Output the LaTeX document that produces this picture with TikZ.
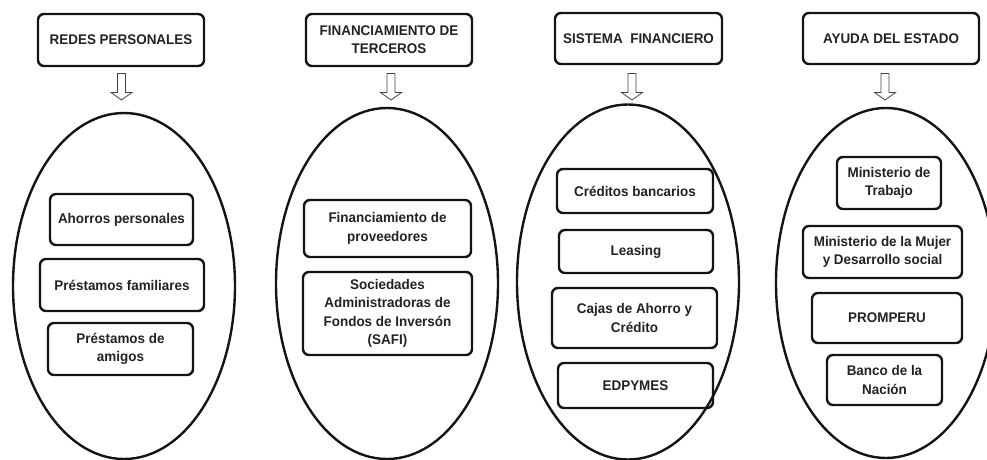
\documentclass[tikz,border=0pt]{standalone}
\usepackage{fontspec}
\setmainfont[FakeStretch=0.96]{Liberation Sans}
\usetikzlibrary{shapes.geometric,calc}
\definecolor{txt}{HTML}{222222}
\definecolor{lin}{HTML}{141414}
\tikzset{
  rbox/.style={draw=lin, line width=2.4pt, rounded corners=6pt, align=center,
    inner sep=0pt, text=txt, font=\fontsize{14}{18.3}\selectfont\bfseries},
  oval/.style={draw=lin, line width=2.4pt, ellipse, inner sep=0pt},
  openarrow/.pic={\draw[line width=0.8pt, draw=lin!80, fill=white]
    (-4,0) -- (4,0) -- (4,19) -- (10.5,19) -- (0,26.5) -- (-10.5,19) -- (-4,19) -- cycle;}
}
\begin{document}
\begin{tikzpicture}[x=1pt,y=-1pt]
\useasboundingbox (0,0) rectangle (987,460);
% ellipses
\node[oval, minimum width=222pt, minimum height=346pt] (e1) at (124,286) {};
\node[oval, minimum width=222pt, minimum height=351pt] (e2) at (387,283.5) {};
\node[oval, minimum width=222pt, minimum height=355pt] (e3) at (628,282) {};
\node[oval, minimum width=220pt, minimum height=350pt] (e4) at (886,283) {};
% headers
\node[rbox, minimum width=166pt, minimum height=52pt] (h1) at (121,40) {REDES PERSONALES};
\node[rbox, minimum width=166pt, minimum height=52pt] (h2) at (389,40) {FINANCIAMIENTO DE\\TERCEROS};
\node[rbox, minimum width=167pt, minimum height=51pt] (h3) at (638.5,38.5) {SISTEMA\ \ FINANCIERO};
\node[rbox, minimum width=176pt, minimum height=51pt] (h4) at (891,38.5) {AYUDA DEL ESTADO};
% arrows
\coordinate (t1) at (121.5,73.5);
\coordinate (t2) at (391,73.5);
\coordinate (t3) at (632,73.5);
\coordinate (t4) at (885,73.5);
\pic at (t1) {openarrow};
\pic at (t2) {openarrow};
\pic at (t3) {openarrow};
\pic at (t4) {openarrow};
% column 1
\node[rbox, minimum width=143pt, minimum height=51pt] (a1) at (121.5,219.5) {Ahorros personales};
\node[rbox, minimum width=164pt, minimum height=52pt] (a2) at (122,285) {Préstamos familiares};
\node[rbox, minimum width=145pt, minimum height=52pt] (a3) at (120.5,349) {Préstamos de\\amigos};
% column 2
\node[rbox, minimum width=167pt, minimum height=57pt] (b1) at (387.5,228.5) {Financiamiento de\\proveedores};
\node[rbox, minimum width=169pt, minimum height=83pt] (b2) at (387.5,313.5) {Sociedades\\Administradoras de\\Fondos de Inversón\\(SAFI)};
% column 3
\node[rbox, minimum width=156pt, minimum height=44pt] (c1) at (635,191) {Créditos bancarios};
\node[rbox, minimum width=154pt, minimum height=43pt] (c2) at (636,251.5) {Leasing};
\node[rbox, minimum width=165pt, minimum height=60pt] (c3) at (634.5,318) {Cajas de Ahorro y\\Crédito};
\node[rbox, minimum width=155pt, minimum height=45pt] (c4) at (635.5,385.5) {EDPYMES};
% column 4
\node[rbox, minimum width=104pt, minimum height=52pt] (d1) at (889,183) {Ministerio de\\Trabajo};
\node[rbox, minimum width=159pt, minimum height=52pt] (d2) at (882.5,252) {Ministerio de la Mujer\\y Desarrollo social};
\node[rbox, minimum width=150pt, minimum height=50pt] (d3) at (887,318) {PROMPERU};
\node[rbox, minimum width=115pt, minimum height=50pt] (d4) at (884.5,380) {Banco de la\\Nación};
\end{tikzpicture}
\end{document}
